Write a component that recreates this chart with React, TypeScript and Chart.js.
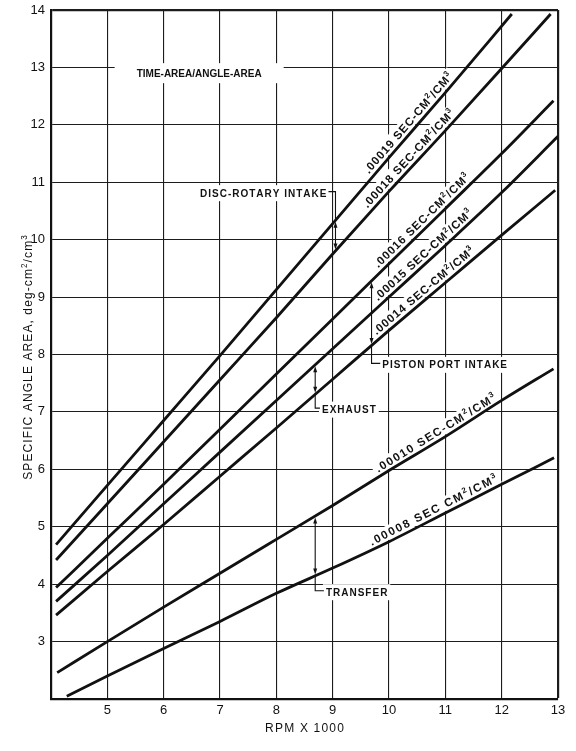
import React, { useEffect, useRef } from "react";
import { Chart, registerables } from "chart.js";

Chart.register(...registerables);

// ---- Data (RPM x 1000  ->  specific angle area) ----
const rpm19 = [4.09, 5, 6, 7, 8, 9, 10, 11, 12.18];
const area19 = [4.69, 5.72, 6.85, 7.98, 9.13, 10.28, 11.43, 12.56, 13.93];
const rpm18 = [4.09, 5, 6, 7, 8, 9, 10, 11, 12, 12.87];
const area18 = [4.42, 5.4, 6.48, 7.56, 8.64, 9.75, 10.84, 11.9, 12.98, 13.93];
const rpm16 = [4.09, 5, 6, 7, 8, 9, 10, 11, 12, 12.92];
const area16 = [3.94, 4.8, 5.74, 6.7, 7.66, 8.62, 9.58, 10.54, 11.5, 12.42];
const rpm15 = [4.09, 5, 6, 7, 8, 9, 10, 11, 12, 13];
const area15 = [3.7, 4.5, 5.4, 6.3, 7.2, 8.1, 9.0, 9.9, 10.82, 11.8];
const rpm14 = [4.09, 5, 6, 7, 8, 9, 10, 11, 12, 12.95];
const area14 = [3.46, 4.22, 5.04, 5.88, 6.72, 7.57, 8.42, 9.25, 10.08, 10.86];
const rpm10 = [4.11, 5, 6, 7, 8, 9, 10, 11, 12, 12.92];
const area10 = [2.46, 3.0, 3.6, 4.19, 4.78, 5.37, 5.98, 6.57, 7.2, 7.75];
const rpm08 = [4.28, 5, 6, 7, 8, 9, 10, 11, 12, 12.93];
const area08 = [2.05, 2.4, 2.88, 3.35, 3.84, 4.28, 4.74, 5.24, 5.74, 6.2];

const seriesRpm = [rpm19, rpm18, rpm16, rpm15, rpm14, rpm10, rpm08];
const seriesArea = [area19, area18, area16, area15, area14, area10, area08];
const seriesLabels = [
  ".00019 SEC-CM^2/CM^3",
  ".00018 SEC-CM^2/CM^3",
  ".00016 SEC-CM^2/CM^3",
  ".00015 SEC-CM^2/CM^3",
  ".00014 SEC-CM^2/CM^3",
  ".00010 SEC-CM^2/CM^3",
  ".00008 SEC CM^2/CM^3",
];
const labelRpm = [10.45, 10.45, 10.68, 10.7, 10.7, 10.9, 10.85];
const labelSpacing = [0.9, 0.9, 0.9, 0.9, 0.9, 1.5, 1.7];

const xMin = 4;
const xMax = 13;
const yMin = 2;
const yMax = 14;
const xTickValues = [5, 6, 7, 8, 9, 10, 11, 12, 13];
const yTickValues = [3, 4, 5, 6, 7, 8, 9, 10, 11, 12, 13, 14];

const xTitle = "RPM X 1000";
const yTitle = "SPECIFIC ANGLE AREA, deg-cm^2/cm^3";

const noteText = "TIME-AREA/ANGLE-AREA";
const noteRpm = 6.63;
const noteArea = 12.9;

const rangeNames = ["DISC-ROTARY INTAKE", "PISTON PORT INTAKE", "EXHAUST", "TRANSFER"];
const rangeUpper = [0, 2, 3, 5];
const rangeLower = [1, 4, 4, 6];
const rangeRpm = [9.05, 9.69, 8.69, 8.69];
const rangeTextRpm = [8.89, 9.88, 8.81, 8.88];
const rangeTextArea = [10.81, 7.82, 7.04, 3.86];
const rangeTextAlign = ["right", "left", "left", "left"];

// ---- style ----
const FONT = "'Liberation Sans', Arial, sans-serif";
const INK = "#111";

function interp(xs: number[], ys: number[], x: number) {
  if (x <= xs[0]) return ys[0];
  for (let i = 1; i < xs.length; i++) {
    if (x <= xs[i]) {
      const t = (x - xs[i - 1]) / (xs[i] - xs[i - 1]);
      return ys[i - 1] + t * (ys[i] - ys[i - 1]);
    }
  }
  return ys[ys.length - 1];
}

function parseRich(s: string) {
  const parts: { t: string; sup: boolean }[] = [];
  let buf = "";
  for (let i = 0; i < s.length; i++) {
    if (s[i] === "^" && i + 1 < s.length) {
      if (buf) parts.push({ t: buf, sup: false });
      buf = "";
      parts.push({ t: s[i + 1], sup: true });
      i++;
    } else buf += s[i];
  }
  if (buf) parts.push({ t: buf, sup: false });
  return parts;
}

function measureRich(ctx: CanvasRenderingContext2D, s: string, size: number, weight: string, spacing: number) {
  let w = 0;
  let n = 0;
  for (const p of parseRich(s)) {
    const fs = p.sup ? size * 0.68 : size;
    ctx.font = `${weight} ${fs}px ${FONT}`;
    for (const ch of p.t) {
      w += ctx.measureText(ch).width + spacing;
      n++;
    }
  }
  return n ? w - spacing : 0;
}

function drawRich(
  ctx: CanvasRenderingContext2D,
  s: string,
  x: number,
  y: number,
  size: number,
  weight: string,
  spacing: number,
  align: string
) {
  const w = measureRich(ctx, s, size, weight, spacing);
  let cx = align === "center" ? x - w / 2 : align === "right" ? x - w : x;
  const base = y + size * 0.358;
  ctx.textBaseline = "alphabetic";
  ctx.textAlign = "left";
  for (const p of parseRich(s)) {
    const fs = p.sup ? size * 0.68 : size;
    ctx.font = `${weight} ${fs}px ${FONT}`;
    const dy = p.sup ? -size * 0.42 : 0;
    for (const ch of p.t) {
      ctx.fillText(ch, cx, base + dy);
      cx += ctx.measureText(ch).width + spacing;
    }
  }
  return w;
}

const NOTE_SIZE = 10;
const NOTE_SPACING = 1.0;
const LABEL_SIZE = 11.5;
const LABEL_OFFSET = 8.4;

function labelGeom(chart: any, i: number) {
  const xs = chart.scales.x;
  const ys = chart.scales.y;
  const a = labelRpm[i];
  const r = seriesRpm[i];
  const v = seriesArea[i];
  const p1x = xs.getPixelForValue(a - 0.3);
  const p1y = ys.getPixelForValue(interp(r, v, a - 0.3));
  const p2x = xs.getPixelForValue(a + 0.3);
  const p2y = ys.getPixelForValue(interp(r, v, a + 0.3));
  const ang = Math.atan2(p2y - p1y, p2x - p1x);
  const nx = Math.sin(ang);
  const ny = -Math.cos(ang);
  const px = xs.getPixelForValue(a);
  const py = ys.getPixelForValue(interp(r, v, a));
  return { cx: px + LABEL_OFFSET * nx, cy: py + LABEL_OFFSET * ny, angle: ang };
}

const notesPlugin = {
  id: "notes",
  beforeDatasetsDraw(chart: any) {
    const ctx: CanvasRenderingContext2D = chart.ctx;
    const xs = chart.scales.x;
    const ys = chart.scales.y;
    ctx.save();
    ctx.fillStyle = "#fff";
    // title box
    const tw = measureRich(ctx, noteText, 10, "bold", 0);
    const tx = xs.getPixelForValue(noteRpm);
    const ty = ys.getPixelForValue(noteArea);
    ctx.fillRect(tx - tw / 2 - 22, ty - 10, tw + 44, 20);
    // range label boxes
    rangeNames.forEach((name, i) => {
      const w = measureRich(ctx, name, NOTE_SIZE, "bold", NOTE_SPACING);
      const px = xs.getPixelForValue(rangeTextRpm[i]);
      const py = ys.getPixelForValue(rangeTextArea[i]);
      const left = rangeTextAlign[i] === "right" ? px - w : px;
      ctx.fillRect(left - 3, py - 8, w + 6, 16);
    });
    // series label boxes
    seriesLabels.forEach((lab, i) => {
      const g = labelGeom(chart, i);
      const w = measureRich(ctx, lab, LABEL_SIZE, "bold", labelSpacing[i]);
      ctx.save();
      ctx.translate(g.cx, g.cy);
      ctx.rotate(g.angle);
      ctx.fillRect(-w / 2 - 3, -LABEL_SIZE * 0.62, w + 6, LABEL_SIZE * 1.2);
      ctx.restore();
    });
    ctx.restore();
  },
  afterDatasetsDraw(chart: any) {
    const ctx: CanvasRenderingContext2D = chart.ctx;
    const xs = chart.scales.x;
    const ys = chart.scales.y;
    const area = chart.chartArea;
    ctx.save();
    ctx.fillStyle = INK;
    ctx.strokeStyle = INK;

    // title note
    drawRich(ctx, noteText, xs.getPixelForValue(noteRpm), ys.getPixelForValue(noteArea), 10, "bold", 0, "center");

    // range arrows + leaders + labels
    rangeNames.forEach((name, i) => {
      const ax = xs.getPixelForValue(rangeRpm[i]);
      const top = ys.getPixelForValue(interp(seriesRpm[rangeUpper[i]], seriesArea[rangeUpper[i]], rangeRpm[i])) + 1.5;
      const bot = ys.getPixelForValue(interp(seriesRpm[rangeLower[i]], seriesArea[rangeLower[i]], rangeRpm[i])) - 1.5;
      const tpx = xs.getPixelForValue(rangeTextRpm[i]);
      const tpy = ys.getPixelForValue(rangeTextArea[i]);
      const ly = tpy - 1.5;
      ctx.lineWidth = 1.1;
      ctx.beginPath();
      ctx.moveTo(ax, top + 4);
      ctx.lineTo(ax, bot - 4);
      ctx.stroke();
      // arrowheads
      ctx.beginPath();
      ctx.moveTo(ax, top);
      ctx.lineTo(ax - 2, top + 6);
      ctx.lineTo(ax + 2, top + 6);
      ctx.closePath();
      ctx.fill();
      ctx.beginPath();
      ctx.moveTo(ax, bot);
      ctx.lineTo(ax - 2, bot - 6);
      ctx.lineTo(ax + 2, bot - 6);
      ctx.closePath();
      ctx.fill();
      // leader
      ctx.beginPath();
      if (rangeTextAlign[i] === "right") {
        ctx.moveTo(ax, top);
        ctx.lineTo(ax, ly);
        ctx.lineTo(tpx + 2, ly);
      } else {
        ctx.moveTo(ax, bot);
        ctx.lineTo(ax, ly);
        ctx.lineTo(tpx - 2, ly);
      }
      ctx.stroke();
      drawRich(ctx, name, tpx, tpy, NOTE_SIZE, "bold", NOTE_SPACING, rangeTextAlign[i]);
    });

    // series labels along the curves
    seriesLabels.forEach((lab, i) => {
      const g = labelGeom(chart, i);
      ctx.save();
      ctx.translate(g.cx, g.cy);
      ctx.rotate(g.angle);
      drawRich(ctx, lab, 0, 0, LABEL_SIZE, "bold", labelSpacing[i], "center");
      ctx.restore();
    });

    // axis titles
    drawRich(ctx, xTitle, (area.left + area.right) / 2, area.bottom + 29, 12, "normal", 1.2, "center");
    ctx.save();
    ctx.translate(area.left - 23, (area.top + area.bottom) / 2 + 3);
    ctx.rotate(-Math.PI / 2);
    drawRich(ctx, yTitle, 0, 0, 12, "normal", 1.1, "center");
    ctx.restore();

    ctx.restore();
  },
};

export default function App() {
  const ref = useRef<HTMLCanvasElement>(null);
  useEffect(() => {
    const canvas = ref.current;
    if (!canvas) return;
    const tickFont = { family: FONT, size: 13 };
    const chart = new Chart(canvas, {
      type: "line",
      data: {
        datasets: seriesRpm.map((r, i) => ({
          data: r.map((x, j) => ({ x, y: seriesArea[i][j] })),
          borderColor: INK,
          borderWidth: 2.8,
          pointRadius: 0,
          fill: false,
          cubicInterpolationMode: "monotone",
        })),
      },
      options: {
        animation: false,
        responsive: false,
        events: [],
        layout: { padding: { left: 0, right: 18, top: 10, bottom: 0 } },
        plugins: { legend: { display: false }, tooltip: { enabled: false } },
        scales: {
          x: {
            type: "linear",
            min: xMin,
            max: xMax,
            afterFit: (s: any) => {
              s.height = 52;
            },
            ticks: {
              stepSize: 1,
              autoSkip: false,
              maxRotation: 0,
              padding: 4,
              color: INK,
              font: tickFont,
              callback: (v: any) => (xTickValues.includes(Number(v)) ? String(v) : ""),
            },
            grid: {
              color: "#1c1c1c",
              lineWidth: (c: any) => (c.tick && c.tick.value === xMax ? 2.2 : 1.1),
              drawTicks: false,
            },
            border: { display: true, color: INK, width: 2.2 },
          },
          y: {
            type: "linear",
            min: yMin,
            max: yMax,
            afterFit: (s: any) => {
              s.width = 51;
              s.paddingTop = 0;
              s.paddingBottom = 0;
            },
            ticks: {
              stepSize: 1,
              autoSkip: false,
              padding: 6,
              color: INK,
              font: tickFont,
              callback: (v: any) => (yTickValues.includes(Number(v)) ? String(v) : ""),
            },
            grid: {
              color: "#1c1c1c",
              lineWidth: (c: any) => (c.tick && c.tick.value === yMax ? 2.2 : 1.1),
              drawTicks: false,
            },
            border: { display: true, color: INK, width: 2.2 },
          },
        },
      } as any,
      plugins: [notesPlugin],
    });
    return () => chart.destroy();
  }, []);
  return (
    <div style={{ position: "absolute", left: 0, top: 0, width: 576, height: 751, background: "#fff" }}>
      <canvas ref={ref} width={576} height={751} style={{ display: "block" }} />
    </div>
  );
}
